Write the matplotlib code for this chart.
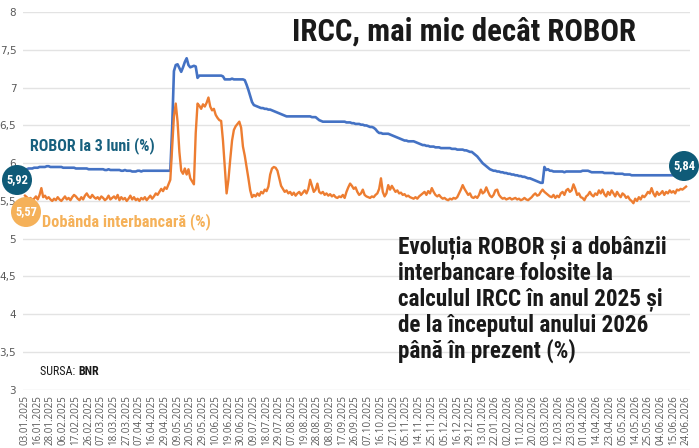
import matplotlib
matplotlib.use("Agg")
import matplotlib.pyplot as plt
from matplotlib import font_manager as fm

# ROBOR la 3 luni (%), one value per working day, 03.01.2025 - 24.06.2026
robor = [
    5.92, 5.92, 5.93, 5.93, 5.93, 5.94, 5.94, 5.94, 5.95, 5.95, 5.95, 5.95, 5.96, 5.96, 5.95, 5.95, 5.95, 5.95, 5.95, 5.95,
    5.95, 5.94, 5.94, 5.94, 5.94, 5.94, 5.94, 5.94, 5.93, 5.93, 5.93, 5.93, 5.93, 5.93, 5.93, 5.92, 5.92, 5.92, 5.92, 5.92,
    5.92, 5.92, 5.92, 5.92, 5.91, 5.91, 5.92, 5.91, 5.91, 5.91, 5.91, 5.91, 5.91, 5.90, 5.90, 5.91, 5.90, 5.90, 5.90, 5.89,
    5.89, 5.89, 5.90, 5.90, 5.89, 5.90, 5.90, 5.90, 5.90, 5.90, 5.90, 5.90, 5.90, 5.90, 5.90, 5.90, 5.90, 5.90, 5.90, 5.90,
    5.90, 6.45, 7.22, 7.30, 7.31, 7.26, 7.21, 7.27, 7.34, 7.39, 7.30, 7.27, 7.28, 7.29, 7.28, 7.13, 7.16, 7.16, 7.16, 7.16,
    7.16, 7.16, 7.16, 7.16, 7.16, 7.16, 7.16, 7.16, 7.16, 7.15, 7.11, 7.11, 7.11, 7.11, 7.12, 7.11, 7.11, 7.11, 7.11, 7.11,
    7.11, 7.10, 7.04, 6.97, 6.89, 6.81, 6.77, 6.76, 6.75, 6.74, 6.73, 6.73, 6.72, 6.72, 6.71, 6.71, 6.70, 6.69, 6.68, 6.67,
    6.66, 6.65, 6.64, 6.63, 6.62, 6.62, 6.62, 6.62, 6.62, 6.62, 6.62, 6.62, 6.62, 6.62, 6.62, 6.62, 6.62, 6.62, 6.61, 6.61,
    6.61, 6.59, 6.57, 6.56, 6.55, 6.55, 6.55, 6.55, 6.55, 6.55, 6.55, 6.55, 6.55, 6.55, 6.55, 6.55, 6.55, 6.54, 6.54, 6.54,
    6.53, 6.53, 6.52, 6.52, 6.52, 6.51, 6.51, 6.50, 6.50, 6.49, 6.48, 6.48, 6.47, 6.45, 6.42, 6.40, 6.40, 6.39, 6.39, 6.39,
    6.39, 6.38, 6.37, 6.36, 6.35, 6.34, 6.33, 6.32, 6.31, 6.30, 6.30, 6.29, 6.29, 6.29, 6.29, 6.28, 6.27, 6.26, 6.25, 6.24,
    6.24, 6.23, 6.23, 6.22, 6.22, 6.22, 6.21, 6.21, 6.21, 6.20, 6.20, 6.20, 6.20, 6.20, 6.20, 6.19, 6.19, 6.19, 6.18, 6.18,
    6.18, 6.18, 6.17, 6.17, 6.16, 6.15, 6.15, 6.13, 6.11, 6.09, 6.06, 6.03, 6.00, 5.98, 5.96, 5.94, 5.92, 5.91, 5.90, 5.90,
    5.89, 5.89, 5.88, 5.88, 5.87, 5.87, 5.86, 5.86, 5.85, 5.85, 5.84, 5.84, 5.83, 5.83, 5.82, 5.82, 5.81, 5.80, 5.80, 5.79,
    5.78, 5.77, 5.76, 5.75, 5.74, 5.74, 5.95, 5.91, 5.92, 5.90, 5.90, 5.89, 5.89, 5.89, 5.89, 5.89, 5.89, 5.88, 5.89, 5.89,
    5.89, 5.89, 5.89, 5.89, 5.89, 5.89, 5.89, 5.90, 5.90, 5.90, 5.90, 5.89, 5.88, 5.88, 5.88, 5.88, 5.88, 5.88, 5.88, 5.87,
    5.87, 5.87, 5.87, 5.87, 5.87, 5.86, 5.86, 5.86, 5.86, 5.86, 5.85, 5.85, 5.85, 5.85, 5.84, 5.84, 5.84, 5.84, 5.84, 5.84,
    5.84, 5.84, 5.84, 5.84, 5.84, 5.84, 5.84, 5.84, 5.84, 5.84, 5.84, 5.84, 5.84, 5.84, 5.84, 5.84, 5.84, 5.84, 5.84, 5.84,
    5.84, 5.84, 5.84, 5.84, 5.84,
]

# Dobanda interbancara (%), same days
interbank = [
    5.57, 5.55, 5.52, 5.54, 5.51, 5.53, 5.56, 5.52, 5.58, 5.67, 5.55, 5.57, 5.53, 5.55, 5.52, 5.50, 5.53, 5.51, 5.55, 5.52,
    5.50, 5.53, 5.56, 5.52, 5.54, 5.51, 5.55, 5.58, 5.56, 5.53, 5.51, 5.55, 5.52, 5.57, 5.60, 5.56, 5.54, 5.58, 5.55, 5.53,
    5.55, 5.52, 5.56, 5.54, 5.51, 5.53, 5.57, 5.52, 5.54, 5.56, 5.53, 5.58, 5.51, 5.55, 5.52, 5.54, 5.50, 5.53, 5.57, 5.52,
    5.55, 5.51, 5.53, 5.50, 5.54, 5.52, 5.55, 5.51, 5.54, 5.57, 5.53, 5.56, 5.60, 5.58, 5.62, 5.66, 5.63, 5.68, 5.66, 5.72,
    5.78, 6.20, 6.62, 6.79, 6.55, 6.15, 5.90, 5.86, 5.93, 5.85, 5.92, 5.80, 5.76, 5.72, 6.40, 6.79, 6.76, 6.72, 6.78, 6.75,
    6.80, 6.87, 6.75, 6.70, 6.72, 6.64, 6.60, 6.57, 6.56, 6.30, 5.95, 5.60, 5.78, 6.05, 6.30, 6.44, 6.49, 6.52, 6.55, 6.47,
    6.22, 6.10, 5.95, 5.80, 5.64, 5.55, 5.58, 5.56, 5.60, 5.57, 5.62, 5.60, 5.65, 5.63, 5.69, 5.85, 5.93, 5.95, 5.94, 5.90,
    5.80, 5.70, 5.66, 5.62, 5.64, 5.60, 5.62, 5.58, 5.61, 5.57, 5.60, 5.62, 5.58, 5.61, 5.64, 5.60, 5.66, 5.78, 5.70, 5.62,
    5.65, 5.73, 5.62, 5.60, 5.62, 5.58, 5.60, 5.57, 5.59, 5.56, 5.58, 5.55, 5.54, 5.56, 5.55, 5.58, 5.54, 5.62, 5.68, 5.73,
    5.70, 5.66, 5.68, 5.62, 5.58, 5.60, 5.65, 5.58, 5.56, 5.55, 5.54, 5.56, 5.55, 5.58, 5.60, 5.66, 5.80, 5.62, 5.56, 5.60,
    5.71, 5.65, 5.70, 5.66, 5.62, 5.64, 5.60, 5.61, 5.58, 5.59, 5.56, 5.57, 5.55, 5.54, 5.53, 5.55, 5.53, 5.56, 5.58, 5.60,
    5.62, 5.58, 5.63, 5.60, 5.67, 5.62, 5.58, 5.56, 5.58, 5.55, 5.53, 5.54, 5.52, 5.51, 5.53, 5.52, 5.54, 5.53, 5.55, 5.60,
    5.65, 5.71, 5.66, 5.62, 5.58, 5.60, 5.55, 5.54, 5.56, 5.54, 5.58, 5.65, 5.60, 5.62, 5.68, 5.62, 5.57, 5.55, 5.58, 5.64,
    5.65, 5.58, 5.55, 5.53, 5.54, 5.52, 5.53, 5.54, 5.52, 5.53, 5.54, 5.52, 5.53, 5.51, 5.52, 5.54, 5.52, 5.51, 5.53, 5.55,
    5.58, 5.60, 5.57, 5.58, 5.62, 5.65, 5.62, 5.60, 5.58, 5.56, 5.55, 5.58, 5.54, 5.57, 5.55, 5.60, 5.62, 5.58, 5.64, 5.66,
    5.62, 5.64, 5.72, 5.66, 5.58, 5.60, 5.55, 5.54, 5.51, 5.56, 5.58, 5.62, 5.58, 5.56, 5.60, 5.58, 5.64, 5.60, 5.65, 5.59,
    5.56, 5.62, 5.58, 5.64, 5.60, 5.56, 5.62, 5.58, 5.55, 5.60, 5.58, 5.54, 5.56, 5.52, 5.50, 5.47, 5.53, 5.50, 5.55, 5.52,
    5.57, 5.55, 5.58, 5.62, 5.60, 5.67, 5.60, 5.56, 5.62, 5.58, 5.60, 5.63, 5.58, 5.62, 5.60, 5.64, 5.61, 5.63, 5.60, 5.65,
    5.64, 5.66, 5.65, 5.67, 5.69,
]

# every 7th working day is labelled
date_labels = [
    "03.01.2025", "16.01.2025", "28.01.2025", "06.02.2025", "17.02.2025", "26.02.2025", "07.03.2025",
    "18.03.2025", "27.03.2025", "07.04.2025", "16.04.2025", "29.04.2025", "09.05.2025", "20.05.2025",
    "29.05.2025", "10.06.2025", "19.06.2025", "30.06.2025", "09.07.2025", "18.07.2025", "29.07.2025",
    "07.08.2025", "19.08.2025", "28.08.2025", "08.09.2025", "17.09.2025", "26.09.2025", "07.10.2025",
    "16.10.2025", "27.10.2025", "05.11.2025", "14.11.2025", "25.11.2025", "05.12.2025", "16.12.2025",
    "29.12.2025", "13.01.2026", "22.01.2026", "02.02.2026", "11.02.2026", "20.02.2026", "03.03.2026",
    "12.03.2026", "23.03.2026", "01.04.2026", "14.04.2026", "23.04.2026", "05.05.2026", "14.05.2026",
    "25.05.2026", "04.06.2026", "15.06.2026", "24.06.2026",
]
label_step = 7
y_ticks = [3, 3.5, 4, 4.5, 5, 5.5, 6, 6.5, 7, 7.5, 8]

subtitle_lines = [
    "Evoluția ROBOR și a dobânzii",
    "interbancare folosite la",
    "calculul IRCC în anul 2025 și",
    "de la începutul anului 2026",
    "până în prezent (%)",
]

BLUE = "#4472C4"
ORANGE = "#ED7D31"
TEAL = "#0F5B78"
LIGHT_ORANGE = "#F5B159"
INK = "#1a1a1a"

# pick the narrowest bold family that is installed
fonts = fm.fontManager.ttflist


def has(name, stretch=None):
    return any(f.name == name and (stretch is None or f.stretch == stretch) for f in fonts)


if has("Liberation Sans Narrow"):
    COND = dict(family=["Liberation Sans Narrow", "DejaVu Sans"])
elif has("Roboto Condensed"):
    COND = dict(family=["Roboto Condensed", "DejaVu Sans"])
elif has("DejaVu Sans", "condensed"):
    COND = dict(family=["DejaVu Sans"], fontstretch="condensed")
else:
    COND = dict(family=["Liberation Sans", "DejaVu Sans"])

W, H = 699, 448


def px(x, y):
    # pixel position (from top-left) to figure fraction
    return x / W, 1 - y / H


fig = plt.figure(figsize=(W / 100, H / 100), dpi=100)
ax = fig.add_axes([23.2 / W, 0.1301, (689.7 - 23.2) / W, 0.8427])

days = list(range(len(robor)))
ax.plot(days, robor, color=BLUE, lw=1.9, solid_joinstyle="round", zorder=3)
ax.plot(days, interbank, color=ORANGE, lw=1.7, solid_joinstyle="round", zorder=3)

ax.set_xlim(-1, len(robor) + 1)
ax.set_ylim(3, 8)
ax.set_yticks(y_ticks)
ax.set_yticklabels([f"{v:g}".replace(".", ",") for v in y_ticks])
ax.set_xticks(range(0, len(date_labels) * label_step, label_step))
ax.set_xticklabels(date_labels, rotation=90, fontsize=7.0, family="Open Sans", color="#595959")
ax.tick_params(axis="y", length=0, pad=5, labelsize=7.5, labelcolor="#595959")
ax.tick_params(axis="x", length=0, pad=4)
for s in ax.spines.values():
    s.set_visible(False)
ax.grid(axis="y", color="#e3e3e3", lw=1)
ax.set_axisbelow(True)

texts = []  # (artist, wanted width in px)

t = fig.text(*px(292, 32), "IRCC, mai mic decât ROBOR", fontweight="bold",
             fontsize=22, color=INK, ha="left", va="center", **COND)
texts.append((t, 343))
t = fig.text(*px(30, 146), "ROBOR la 3 luni (%)", fontweight="bold",
             fontsize=13, color="#17607E", ha="left", va="center", **COND)
texts.append((t, 125))
t = fig.text(*px(42, 222), "Dobânda interbancară (%)", fontweight="bold",
             fontsize=13, color=LIGHT_ORANGE, ha="left", va="center", **COND)
texts.append((t, 168))

bubbles = []
for (bx, by), label, colour in [((17, 180), "5,92", TEAL),
                                 ((26, 212), "5,57", LIGHT_ORANGE),
                                 ((684, 166), "5,84", TEAL)]:
    t = fig.text(*px(bx, by), label, fontweight="bold", fontsize=10, color="white",
                 ha="center", va="center", zorder=5,
                 bbox=dict(boxstyle="circle,pad=0.3", fc=colour, ec="none"), **COND)
    texts.append((t, 22))
    bubbles.append(t)

src = fig.text(*px(40, 371), "SURSA: ", fontsize=8.5, color=INK, ha="left", va="center", **COND)
texts.append((src, 38))

# subtitle, one text per line so the spacing follows the original
sub = []
for k, line in enumerate(subtitle_lines):
    sub.append(fig.text(*px(398, 254 + 26 * k), line, fontweight="bold", fontsize=15.5,
                        color=INK, ha="left", va="baseline", **COND))

# scale each text so it spans the same width as in the original layout
fig.canvas.draw()
renderer = fig.canvas.get_renderer()
for t, wanted in texts:
    bb = t.get_window_extent(renderer)
    t.set_fontsize(t.get_fontsize() * wanted / bb.width)
widest = max(t.get_window_extent(renderer).width for t in sub)
for t in sub:
    t.set_fontsize(t.get_fontsize() * 268 / widest)

# bubble radius about 15 px
fig.canvas.draw()
for t in bubbles:
    bb = t.get_window_extent(renderer)
    fs_px = t.get_fontsize() * 100 / 72
    t.get_bbox_patch().set_boxstyle("circle", pad=max(0.05, (15 - max(bb.width, bb.height) / 2) / fs_px))

bb = src.get_window_extent(renderer)
fig.text(bb.x1 / W, 1 - 371 / H, "BNR", fontsize=src.get_fontsize(), fontweight="bold",
         color=INK, ha="left", va="center", **COND)

fig.savefig("out.png", dpi=100)
